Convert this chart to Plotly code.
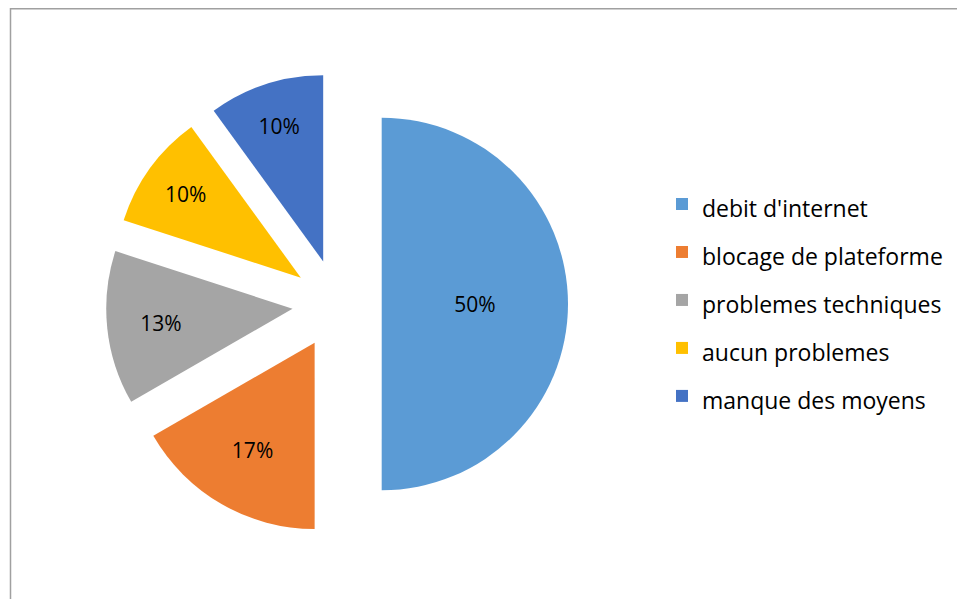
import plotly.graph_objects as go

labels = ["debit d'internet", "blocage de plateforme", "problemes techniques",
          "aucun problemes", "manque des moyens"]
values = [15, 5, 4, 3, 3]
colors = ["#5B9BD5", "#ED7D31", "#A5A5A5", "#FFC000", "#4472C4"]

W, H = 965, 599
FONT = "Open Sans"

fig = go.Figure(go.Pie(
    labels=[f"<span style='font-size:23px'>{l}</span>" for l in labels],
    values=values,
    sort=False,
    direction="clockwise",
    rotation=0,
    pull=[0.24] * len(values),
    marker=dict(colors=colors, line=dict(width=0)),
    textinfo="percent",
    texttemplate="%{percent:.0%}",
    textposition="inside",
    insidetextorientation="horizontal",
    textfont=dict(family=FONT, size=21, color="#000000"),
    domain=dict(x=[98 / W, 560 / W], y=[1 - 527 / H, 1 - 65 / H]),
    hoverinfo="label+percent",
))

fig.update_layout(
    width=W, height=H,
    margin=dict(l=0, r=0, t=0, b=0),
    paper_bgcolor="white",
    font=dict(family=FONT, color="#000000"),
    legend=dict(
        x=654 / W, xanchor="left",
        y=1 - 292 / H, yanchor="middle",
        font=dict(family=FONT, size=34.6, color="#000000"),
        itemwidth=30,
    ),
    shapes=[dict(type="rect", xref="paper", yref="paper",
                 x0=2.5 / W, x1=1.2, y0=-0.2, y1=1 - 0.75 / H,
                 line=dict(color="#A0A0A0", width=1.5))],
)

fig.write_html("out.html")
